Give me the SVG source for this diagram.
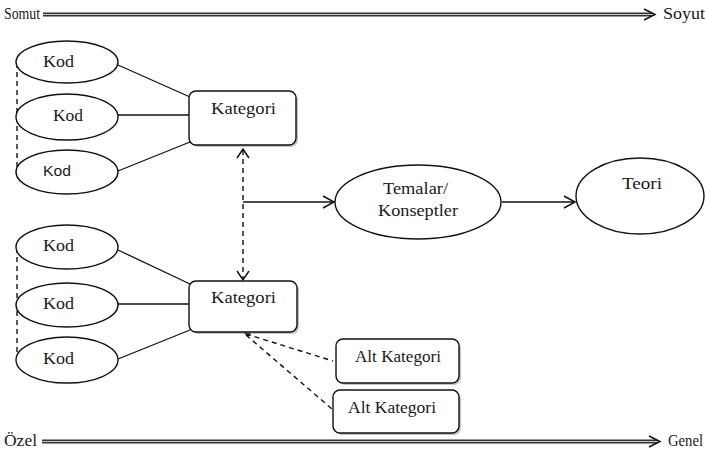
<svg xmlns="http://www.w3.org/2000/svg" width="705" height="453" viewBox="0 0 705 453">
<style>
  text { font-family: 'Liberation Serif', 'DejaVu Serif', 'Times New Roman', serif; font-size: 16px; fill: #1a1a1a; }
  text.ts { font-family: 'Liberation Sans', 'DejaVu Sans', Arial, sans-serif; font-size: 14px; }
  .node { fill: #fff; stroke: #111; stroke-width: 1.4; }
  .sh { fill: #888; opacity: 0.5; }
  .ln { stroke: #111; stroke-width: 1.3; fill: none; }
  .dash { stroke: #111; stroke-width: 1.4; fill: none; stroke-dasharray: 5 4; }
  .ah { stroke: #111; stroke-width: 1.5; fill: none; }
  .dbl1 { stroke: #333; stroke-width: 4; fill: none; }
  .dbl2 { stroke: #c8c8c8; stroke-width: 1.2; fill: none; }
</style>
<rect width="705" height="453" fill="#fff"/>

<g id="scale-top">
  <text x="4" y="19" textLength="36" lengthAdjust="spacingAndGlyphs">Somut</text>
  <line class="dbl1" x1="43" y1="14.5" x2="652" y2="14.5"/>
  <line class="dbl2" x1="43" y1="14.5" x2="652" y2="14.5"/>
  <path class="ah" d="M644,9 L655,14.5 L644,20"/>
  <text x="663" y="19" textLength="42" lengthAdjust="spacingAndGlyphs">Soyut</text>
</g>
<g id="scale-bottom">
  <text x="4" y="446" textLength="33" lengthAdjust="spacingAndGlyphs">Özel</text>
  <line class="dbl1" x1="42" y1="441.5" x2="657" y2="441.5"/>
  <line class="dbl2" x1="42" y1="441.5" x2="657" y2="441.5"/>
  <path class="ah" d="M649,436 L660,441.5 L649,447"/>
  <text x="668" y="446" textLength="35" lengthAdjust="spacingAndGlyphs">Genel</text>
</g>

<g id="connectors">
  <line class="ln" x1="118" y1="65" x2="190" y2="97"/>
  <line class="ln" x1="118" y1="115" x2="190" y2="115"/>
  <line class="ln" x1="118" y1="171" x2="190" y2="142"/>
  <line class="dash" x1="17" y1="63" x2="17" y2="170"/>
  <line class="ln" x1="118" y1="250" x2="190" y2="284"/>
  <line class="ln" x1="118" y1="304" x2="190" y2="304"/>
  <line class="ln" x1="118" y1="359" x2="190" y2="330"/>
  <line class="dash" x1="17" y1="248" x2="17" y2="362"/>
  <line class="dash" x1="243" y1="150" x2="243" y2="278"/>
  <path class="ah" d="M237,158 L243,149 L249,158"/>
  <path class="ah" d="M237,271 L243,280 L249,271"/>
  <line class="ln" x1="243" y1="202" x2="333" y2="202"/>
  <path class="ah" d="M323,196 L334,202 L323,208"/>
  <line class="ln" x1="502" y1="202" x2="574" y2="202"/>
  <path class="ah" d="M564,196 L575,202 L564,208"/>
  <line class="dash" x1="246" y1="334" x2="333" y2="361"/>
  <line class="dash" x1="246" y1="335" x2="332" y2="409"/>
  <path d="M243,332 L251,333 L248,337 Z" fill="#111"/>
</g>

<g id="kod1"><ellipse class="node" cx="67" cy="62" rx="51" ry="21"/><text x="43" y="67" textLength="31" lengthAdjust="spacingAndGlyphs">Kod</text></g>
<g id="kod2"><ellipse class="node" cx="67" cy="117" rx="51" ry="23"/><text x="53" y="121" textLength="30" lengthAdjust="spacingAndGlyphs">Kod</text></g>
<g id="kod3"><ellipse class="node" cx="67" cy="172" rx="51" ry="22"/><text class="ts" x="43" y="176" textLength="28" lengthAdjust="spacingAndGlyphs">Kod</text></g>

<g id="kod4"><ellipse class="node" cx="67" cy="247" rx="51" ry="22"/><text x="43" y="251" textLength="31" lengthAdjust="spacingAndGlyphs">Kod</text></g>
<g id="kod5"><ellipse class="node" cx="67" cy="305" rx="51" ry="22"/><text x="43" y="309" textLength="31" lengthAdjust="spacingAndGlyphs">Kod</text></g>
<g id="kod6"><ellipse class="node" cx="67" cy="360" rx="51" ry="23"/><text x="43" y="364" textLength="31" lengthAdjust="spacingAndGlyphs">Kod</text></g>

<g id="kategori1">
  <rect class="sh" x="191" y="93" width="107" height="54" rx="7"/>
  <rect class="node" x="189" y="91" width="107" height="54" rx="7"/>
  <text x="211" y="114" textLength="65" lengthAdjust="spacingAndGlyphs">Kategori</text>
</g>
<g id="kategori2">
  <rect class="sh" x="191" y="283" width="108" height="51" rx="7"/>
  <rect class="node" x="189" y="281" width="108" height="51" rx="7"/>
  <text x="211" y="303" textLength="65" lengthAdjust="spacingAndGlyphs">Kategori</text>
</g>

<g id="temalar">
  <ellipse class="node" cx="418" cy="202" rx="83" ry="37"/>
  <text x="383" y="194" textLength="65" lengthAdjust="spacingAndGlyphs">Temalar/</text>
  <text x="378" y="216" textLength="80" lengthAdjust="spacingAndGlyphs">Konseptler</text>
</g>

<g id="teori">
  <ellipse class="node" cx="640" cy="196" rx="64" ry="38"/>
  <text x="622" y="189" textLength="40" lengthAdjust="spacingAndGlyphs">Teori</text>
</g>

<g id="altkategori1">
  <rect class="sh" x="338" y="341" width="123" height="44" rx="7"/>
  <rect class="node" x="336" y="339" width="123" height="44" rx="7"/>
  <text x="355" y="362" textLength="86" lengthAdjust="spacingAndGlyphs">Alt Kategori</text>
</g>
<g id="altkategori2">
  <rect class="sh" x="335" y="392" width="126" height="43" rx="7"/>
  <rect class="node" x="333" y="390" width="126" height="43" rx="7"/>
  <text x="348" y="413" textLength="88" lengthAdjust="spacingAndGlyphs">Alt Kategori</text>
</g>
</svg>
